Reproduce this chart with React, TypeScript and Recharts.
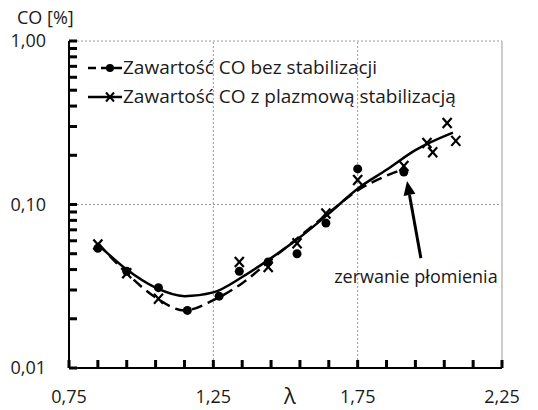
import { ComposedChart, XAxis, YAxis, Line, Scatter, ReferenceLine, Legend } from 'recharts';

// measured points, "bez stabilizacji" (dots)
const noStabX = [0.85, 0.95, 1.06, 1.16, 1.27, 1.34, 1.44, 1.54, 1.64, 1.75, 1.91];
const noStabY = [0.054, 0.039, 0.031, 0.0225, 0.0275, 0.039, 0.0445, 0.05, 0.077, 0.165, 0.158];

// measured points, "z plazmową stabilizacją" (crosses)
const plasmaX = [0.85, 0.95, 1.06, 1.34, 1.44, 1.54, 1.64, 1.75, 1.91, 1.99, 2.01, 2.06, 2.09];
const plasmaY = [0.057, 0.038, 0.0265, 0.0445, 0.0415, 0.058, 0.088, 0.141, 0.172, 0.238, 0.209, 0.315, 0.245];

// trend curves
const trendNoStabX = [0.85, 0.95, 1.05, 1.15, 1.25, 1.35, 1.45, 1.55, 1.65, 1.75, 1.85, 1.91];
const trendNoStabY = [0.058, 0.038, 0.027, 0.0225, 0.026, 0.033, 0.046, 0.064, 0.089, 0.122, 0.15, 0.165];
const trendPlasmaX = [0.85, 0.95, 1.05, 1.15, 1.25, 1.35, 1.45, 1.55, 1.65, 1.75, 1.85, 1.95, 2.08];
const trendPlasmaY = [0.057, 0.04, 0.031, 0.0275, 0.029, 0.036, 0.047, 0.063, 0.088, 0.125, 0.163, 0.215, 0.275];

// flame blow-off annotation (arrow tail -> tip)
const arrowX = [1.969, 1.921];
const arrowY = [0.047, 0.139];

const xTicks = [0.75, 0.85, 0.95, 1.05, 1.15, 1.25, 1.35, 1.45, 1.55, 1.65, 1.75, 1.85, 1.95, 2.05, 2.15, 2.25];
const xLabels: Record<string, string> = { '0.75': '0,75', '1.25': '1,25', '1.75': '1,75', '2.25': '2,25' };
const yTicks = [0.01, 0.02, 0.03, 0.04, 0.05, 0.06, 0.07, 0.08, 0.09, 0.1, 0.2, 0.3, 0.4, 0.5, 0.6, 0.7, 0.8, 0.9, 1];
const yLabels: Record<string, string> = { '0.01': '0,01', '0.1': '0,10', '1': '1,00' };

const legendNames = ['Zawartość CO bez stabilizacji', 'Zawartość CO z plazmową stabilizacją'];

const zip = (xs: number[], ys: number[]) => xs.map((x, i) => ({ x, y: ys[i] }));

const noStab = zip(noStabX, noStabY);
const plasma = zip(plasmaX, plasmaY);
const trendNoStab = zip(trendNoStabX, trendNoStabY);
const trendPlasma = zip(trendPlasmaX, trendPlasmaY);
const arrowSeg = zip(arrowX, arrowY);

const FONT = '"Open Sans", sans-serif';
const TXT = '#1a1a1a';
const TICK_LEN = 8;
const TICK_W = 3;

const Dot = ({ cx, cy }: any) => <circle cx={cx} cy={cy} r={4.5} fill="#000" />;

const Cross = ({ cx, cy }: any) => (
  <g stroke="#000" strokeWidth={2.2}>
    <line x1={cx - 4.5} y1={cy - 5} x2={cx + 4.5} y2={cy + 5} />
    <line x1={cx + 4.5} y1={cy - 5} x2={cx - 4.5} y2={cy + 5} />
  </g>
);

// inward tick marks drawn as thin rects (stroked lines did not show up here)
const XTick = ({ x, y, payload }: any) => {
  const label = xLabels[String(payload.value)];
  return (
    <g>
      <rect x={x - TICK_W / 2} y={y - TICK_LEN} width={TICK_W} height={TICK_LEN} fill="#000" />
      {label && (
        <text x={x} y={y + 35} textAnchor="middle" fontSize={18} fill={TXT}>
          {label}
        </text>
      )}
    </g>
  );
};

const YTick = ({ x, y, payload }: any) => {
  const label = yLabels[String(payload.value)];
  return (
    <g>
      <rect x={x} y={y - TICK_W / 2} width={TICK_LEN} height={TICK_W} fill="#000" />
      {label && (
        <text x={x - 23} y={y + 6} textAnchor="end" fontSize={18} fill={TXT}>
          {label}
        </text>
      )}
    </g>
  );
};

const LegendBox = () => (
  <svg width={380} height={60} style={{ fontFamily: FONT }}>
    <g>
      <line x1={2} x2={36} y1={13} y2={13} stroke="#000" strokeWidth={2.5} strokeDasharray="8 5" />
      <circle cx={24} cy={13} r={4} fill="#000" />
      <text x={37} y={19} fontSize={19} fill={TXT}>{legendNames[0]}</text>
    </g>
    <g>
      <line x1={2} x2={36} y1={42} y2={42} stroke="#000" strokeWidth={2.5} />
      <g stroke="#000" strokeWidth={2}>
        <line x1={20} y1={37.5} x2={28} y2={46.5} />
        <line x1={28} y1={37.5} x2={20} y2={46.5} />
      </g>
      <text x={37} y={48} fontSize={19} fill={TXT}>{legendNames[1]}</text>
    </g>
  </svg>
);

const Arrow = ({ x1, y1, x2, y2 }: any) => {
  const ang = Math.atan2(y2 - y1, x2 - x1);
  const hl = 14;
  const hw = 6;
  const bx = x2 - hl * Math.cos(ang);
  const by = y2 - hl * Math.sin(ang);
  const px = -Math.sin(ang) * hw;
  const py = Math.cos(ang) * hw;
  return (
    <g>
      <line x1={x1} y1={y1} x2={bx} y2={by} stroke="#000" strokeWidth={3} />
      <polygon points={`${x2},${y2} ${bx + px},${by + py} ${bx - px},${by - py}`} fill="#000" />
      <text x={x1 - 5} y={y1 + 25} textAnchor="middle" fontSize={18} fill={TXT} style={{ fontFamily: FONT }}>
        zerwanie płomienia
      </text>
    </g>
  );
};

export default function App() {
  return (
    <div style={{ position: 'absolute', left: 0, top: 0, width: 538, height: 410, background: '#fff' }}>
      <ComposedChart
        width={538}
        height={410}
        margin={{ top: 41, right: 36, bottom: 0, left: 0 }}
        style={{ fontFamily: FONT }}
      >
        <XAxis
          dataKey="x"
          type="number"
          domain={[0.75, 2.25]}
          ticks={xTicks}
          interval={0}
          height={42}
          tickSize={0}
          tickMargin={0}
          tickLine={false}
          tick={<XTick />}
          axisLine={{ stroke: '#000', strokeWidth: 2 }}
          allowDataOverflow
          label={({ viewBox }: any) => (
            <text x={viewBox.x + 221} y={viewBox.y + 36} textAnchor="middle" fontSize={22} fill={TXT}>
              λ
            </text>
          )}
        />
        <YAxis
          type="number"
          scale="log"
          domain={[0.01, 1]}
          ticks={yTicks}
          interval={0}
          width={69}
          tickSize={0}
          tickMargin={0}
          tickLine={false}
          tick={<YTick />}
          axisLine={{ stroke: '#000', strokeWidth: 2 }}
          allowDataOverflow
          label={({ viewBox }: any) => (
            <text x={viewBox.x + 17} y={viewBox.y - 17} fontSize={18} fill={TXT}>
              CO [%]
            </text>
          )}
        />
        <ReferenceLine y={1} stroke="#999" strokeDasharray="2 2" />
        <ReferenceLine y={0.1} stroke="#999" strokeDasharray="2 2" />
        <ReferenceLine x={1.25} stroke="#999" strokeDasharray="2 2" />
        <ReferenceLine x={1.75} stroke="#999" strokeDasharray="2 2" />
        <ReferenceLine x={2.25} stroke="#bbb" strokeWidth={1.5} />
        <Line
          data={trendNoStab}
          dataKey="y"
          type="monotone"
          stroke="#000"
          strokeWidth={2.5}
          strokeDasharray="11 6"
          dot={false}
          isAnimationActive={false}
        />
        <Line
          data={trendPlasma}
          dataKey="y"
          type="monotone"
          stroke="#000"
          strokeWidth={2.5}
          dot={false}
          isAnimationActive={false}
        />
        <Scatter data={noStab} dataKey="y" shape={<Dot />} isAnimationActive={false} />
        <Scatter data={plasma} dataKey="y" shape={<Cross />} isAnimationActive={false} />
        <ReferenceLine segment={arrowSeg} shape={<Arrow />} />
        <Legend
          layout="vertical"
          align="center"
          verticalAlign="middle"
          content={<LegendBox />}
          wrapperStyle={{ left: 86, top: 55, width: 380 }}
        />
      </ComposedChart>
    </div>
  );
}
